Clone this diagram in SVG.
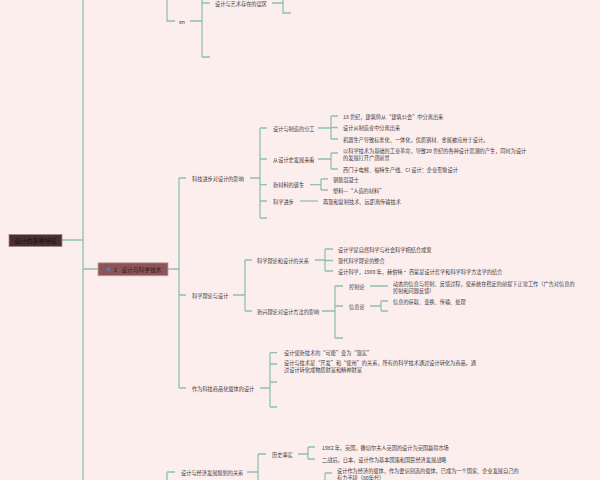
<svg xmlns="http://www.w3.org/2000/svg" width="600" height="480" viewBox="0 0 600 480">
<style>
.t{font-family:"Noto Sans CJK SC","Noto Sans",sans-serif;font-size:5.2px;fill:#3a3a3a;dominant-baseline:central}
.c{fill:none;stroke:#8fc0b3;stroke-width:1.3}
</style>
<rect width="600" height="480" fill="#fdeeee"/>
<g id="connectors" class="c">
<path d="M83,0V480M62,240H83M83,269H98M168,269H179"/>
<path d="M167,0V21H175M190,21H202M202,0V57M202,3H210M202,57H210M272,3H283M283,0V13H291"/>
<path d="M179,178V388M179,178H186M179,295H186M179,388H186"/>
<path d="M250,178H260M260,128V218M260,128H267M260,159H267M260,184.7H267M260,201H267M260,218H267"/>
<path d="M318,128H331M331,116V139M331,116H338M331,127.5H338M331,139H338"/>
<path d="M318,159H331M331,153V169M331,153H338M331,169H338"/>
<path d="M310,184.7H321M321,179V190M321,179H328M321,190H328"/>
<path d="M300,201H318"/>
<path d="M233,295H245M245,260V311M245,260H252M245,311H252"/>
<path d="M315,260H325M325,249V271M325,249H333M325,260.5H333M325,271H333"/>
<path d="M322,311H335M335,286V338M335,286H343M335,306H343M335,338H343"/>
<path d="M370,286H388M370,306H381M381,301V311M381,301H388M381,311H388"/>
<path d="M260,388H270M270,352.7V407M270,352.7H277M270,364H277M270,382H277M270,407H277"/>
<path d="M167,472V480M167,472H175M247,472H258M258,454V480M258,454H266M298,454H308M308,447V459M308,447H315M308,459H315M325,473V480M325,473H332"/>
</g>
<g id="root">
<rect x="9" y="234.5" width="53" height="12" fill="#4a2e32" stroke="#a08a8c" stroke-width="0.8"/>
<text class="t" x="35.5" y="240.5" text-anchor="middle" style="font-size:6px;fill:#1a1010">设计的多重特征</text>
</g>
<g id="central">
<rect x="98" y="262.8" width="70" height="13" fill="#8c5457" stroke="#c8a3a5" stroke-width="0.8"/>
<path d="M110.5,266.5L105,269.5L110.5,272.5Q109,269.5 110.5,266.5Z" fill="#4a7fb0"/>
<text class="t" x="114" y="269.5" style="fill:#2b1f20">2</text>
<text class="t" x="121.5" y="269.5" style="font-size:5.7px;fill:#2b1f20">设计与科学技术</text>
</g>
<g id="top-nodes">
<text class="t" x="179" y="21">en</text>
<text class="t" x="215" y="3">设计与艺术存在的误区</text>
</g>
<g id="n1">
<text class="t" x="192" y="178">科技进步对设计的影响</text>
<text class="t" x="273" y="128">设计与制造的分工</text>
<text class="t" x="343" y="116">18 世纪，建筑师从“建筑公会”中分离出来</text>
<text class="t" x="343" y="127.5">设计从制造业中分离出来</text>
<text class="t" x="343" y="139">机器生产导致标准化、一体化，优质钢材、金属被应用于设计。</text>
<text class="t" x="273" y="159">从设计史发展来看</text>
<text class="t" x="343" y="150.5">以科学技术为基础的工业革命，导致20 世纪的各种设计思潮的产生，同时为设计</text>
<text class="t" x="343" y="157.5">的发展打开广阔前景</text>
<text class="t" x="343" y="169">西门子电梯、福特生产线、CI 设计：企业形象设计</text>
<text class="t" x="273" y="184.7">新材料的诞生</text>
<text class="t" x="333" y="179">钢筋混凝土</text>
<text class="t" x="333" y="190">塑料—“人造的材料”</text>
<text class="t" x="273" y="201">科学进步</text>
<text class="t" x="323" y="201">再现和复制技术、远距离传输技术</text>
</g>
<g id="n2">
<text class="t" x="192" y="295">科学理论与设计</text>
<text class="t" x="257" y="260">科学理论和设计的关系</text>
<text class="t" x="338" y="249">设计学是自然科学与社会科学相结合成果</text>
<text class="t" x="338" y="260.5">现代科学理论的整合</text>
<text class="t" x="338" y="271">设计科学，1969 年，赫伯特· 西蒙是设计哲学和科学科学方法学的结合</text>
<text class="t" x="257" y="311">新兴理论对设计方法的影响</text>
<text class="t" x="349" y="286">控制论</text>
<text class="t" x="393" y="283">动态的信息与控制、反馈过程，使系统在稳定的前提下正常工作（广告对信息的</text>
<text class="t" x="393" y="290">控制和问题反馈）</text>
<text class="t" x="349" y="306">信息论</text>
<text class="t" x="393" y="301">信息的获取、变换、传输、处理</text>
</g>
<g id="n3">
<text class="t" x="192" y="388">作为科技商品化载体的设计</text>
<text class="t" x="284" y="352.7">设计使新技术的“可能”变为“现实”</text>
<text class="t" x="284" y="362">设计与技术是“开发”和“使用”的关系，所有的科学技术通过设计转化为商品，通</text>
<text class="t" x="284" y="369">过设计转化成物质财富和精神财富</text>
</g>
<g id="n4">
<text class="t" x="181" y="472">设计与经济发展规划的关系</text>
<text class="t" x="272" y="454">历史事实</text>
<text class="t" x="322" y="447">1982 年，英国，撒切尔夫人英国的设计为英国赢得市场</text>
<text class="t" x="322" y="459">二战后，日本，设计作为基本国策和国民经济发展战略</text>
<text class="t" x="337" y="470">设计作为经济的载体，作为要识别选的载体，已成为一个国家、企业发展自己的</text>
<text class="t" x="337" y="477.7">有力手段（80年代）</text>
</g>
</svg>
